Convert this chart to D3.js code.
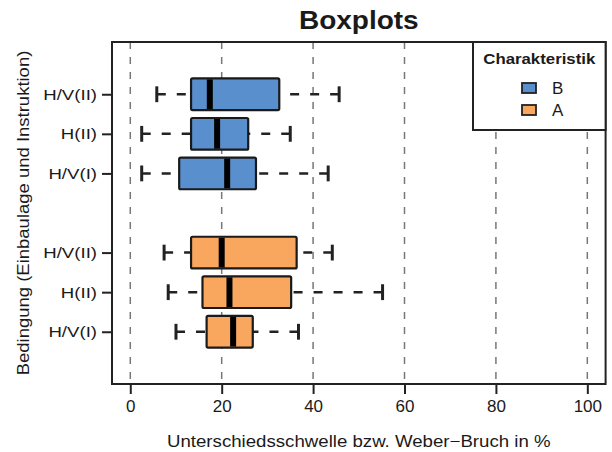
<!DOCTYPE html>
<html>
<head>
<meta charset="utf-8">
<script src="https://cdn.jsdelivr.net/npm/d3@7"></script>
<style>
  body { margin: 0; background: #fff; }
  text { font-family: "Liberation Sans", Arial, sans-serif; fill: #1a1a1a; }
</style>
</head>
<body>
<div id="chart"></div>
<script>
// categories, bottom to top inside each group
var categories = ['H/V(I)', 'H(II)', 'H/V(II)'];
var series = ['A', 'B'];
var legend_order = ['B', 'A'];
var x_ticks = [0, 20, 40, 60, 80, 100];

// five number summaries per category (low whisker, q1, median, q3, high whisker)
var a_low = [10.0, 8.3, 7.4];
var a_q1 = [16.7, 15.8, 13.3];
var a_med = [22.5, 21.7, 20.0];
var a_q3 = [26.8, 35.2, 36.4];
var a_high = [36.8, 55.2, 44.2];

var b_low = [2.5, 2.5, 5.8];
var b_q1 = [10.7, 13.3, 13.3];
var b_med = [21.2, 19.0, 17.4];
var b_q3 = [27.5, 25.8, 32.6];
var b_high = [43.3, 35.0, 45.7];

var colors = { A: '#f9a65e', B: '#5a8fcd' };

var chart_width = 612;
var chart_height = 452;
// note: "top" is taken by window.top, so use plot_* names
var plot_left = 112, plot_right = 605.6, plot_top = 42, plot_bottom = 384;

var svg = d3
  .select('#chart')
  .append('svg')
  .attr('width', chart_width)
  .attr('height', chart_height);

var x_scale = d3.scaleLinear().domain([-4, 104]).range([plot_left, plot_right]);
// slots 1-3 for A, slot 4 empty, slots 5-7 for B
var y_scale = d3.scaleLinear().domain([-0.32, 8.32]).range([plot_bottom, plot_top]);

// build rows from the arrays
var rows = [];
categories.forEach(function(c, i) {
  rows.push({ cat: c, s: 'A', pos: i + 1, low: a_low[i], q1: a_q1[i], med: a_med[i], q3: a_q3[i], high: a_high[i] });
});
categories.forEach(function(c, i) {
  rows.push({ cat: c, s: 'B', pos: i + 5, low: b_low[i], q1: b_q1[i], med: b_med[i], q3: b_q3[i], high: b_high[i] });
});

var slot = y_scale(0) - y_scale(1);
var box_h = slot * 0.8;
var cap_h = box_h / 2;

// the reference text is a bit wider than Liberation Sans, stretch it
function stretch(sel, f) {
  sel.each(function() {
    var w = this.getComputedTextLength();
    d3.select(this).attr('textLength', w * f).attr('lengthAdjust', 'spacingAndGlyphs');
  });
}

// grid
svg
  .selectAll('.grid')
  .data(x_ticks)
  .enter()
  .append('line')
  .attr('x1', function(d) { return x_scale(d); })
  .attr('x2', function(d) { return x_scale(d); })
  .attr('y1', plot_top)
  .attr('y2', plot_bottom)
  .attr('stroke', '#777')
  .attr('stroke-width', 1.5)
  .attr('stroke-dasharray', '7,8');

var g = svg.selectAll('.row').data(rows).enter().append('g');

// whiskers, drawn from the cap toward the box
g.append('line')
  .attr('x1', function(d) { return x_scale(d.low); })
  .attr('x2', function(d) { return x_scale(d.q1); })
  .attr('y1', function(d) { return y_scale(d.pos); })
  .attr('y2', function(d) { return y_scale(d.pos); })
  .attr('stroke', '#222')
  .attr('stroke-width', 2.5)
  .attr('stroke-dasharray', '9,11');
g.append('line')
  .attr('x1', function(d) { return x_scale(d.high); })
  .attr('x2', function(d) { return x_scale(d.q3); })
  .attr('y1', function(d) { return y_scale(d.pos); })
  .attr('y2', function(d) { return y_scale(d.pos); })
  .attr('stroke', '#222')
  .attr('stroke-width', 2.5)
  .attr('stroke-dasharray', '9,11');

// caps
['low', 'high'].forEach(function(k) {
  g.append('line')
    .attr('x1', function(d) { return x_scale(d[k]); })
    .attr('x2', function(d) { return x_scale(d[k]); })
    .attr('y1', function(d) { return y_scale(d.pos) - cap_h / 2; })
    .attr('y2', function(d) { return y_scale(d.pos) + cap_h / 2; })
    .attr('stroke', '#222')
    .attr('stroke-width', 3);
});

// boxes
g.append('rect')
  .attr('x', function(d) { return x_scale(d.q1); })
  .attr('y', function(d) { return y_scale(d.pos) - box_h / 2; })
  .attr('width', function(d) { return x_scale(d.q3) - x_scale(d.q1); })
  .attr('height', box_h)
  .attr('rx', 1.5)
  .attr('fill', function(d) { return colors[d.s]; })
  .attr('stroke', '#1a1a1a')
  .attr('stroke-width', 2.2);

// medians
g.append('line')
  .attr('x1', function(d) { return x_scale(d.med); })
  .attr('x2', function(d) { return x_scale(d.med); })
  .attr('y1', function(d) { return y_scale(d.pos) - box_h / 2 + 1; })
  .attr('y2', function(d) { return y_scale(d.pos) + box_h / 2 - 1; })
  .attr('stroke', '#000')
  .attr('stroke-width', 6);

// frame
svg.append('rect')
  .attr('x', plot_left).attr('y', plot_top)
  .attr('width', plot_right - plot_left).attr('height', plot_bottom - plot_top)
  .attr('fill', 'none')
  .attr('stroke', '#222')
  .attr('stroke-width', 2);

// x axis
var x_axis = d3.axisBottom(x_scale).tickValues(x_ticks).tickSize(10).tickPadding(6);
var xg = svg.append('g').attr('transform', 'translate(0,' + plot_bottom + ')').call(x_axis);
xg.select('.domain').remove();
xg.selectAll('line').attr('stroke', '#222').attr('stroke-width', 2);
xg.selectAll('text').attr('font-size', 17).attr('font-family', null).attr('fill', '#1a1a1a');

// y axis
var y_axis = d3.axisLeft(y_scale)
  .tickValues(rows.map(function(d) { return d.pos; }))
  .tickFormat(function(p) { return rows.filter(function(r) { return r.pos === p; })[0].cat; })
  .tickSize(10)
  .tickPadding(5);
var yg = svg.append('g').attr('transform', 'translate(' + plot_left + ',0)').call(y_axis);
yg.select('.domain').remove();
yg.selectAll('line').attr('stroke', '#222').attr('stroke-width', 2);
yg.selectAll('text').attr('font-size', 15.5).attr('font-family', null).attr('fill', '#1a1a1a');
stretch(yg.selectAll('text'), 1.2);

// titles
var title = svg.append('text')
  .attr('x', (plot_left + plot_right) / 2)
  .attr('y', 29)
  .attr('text-anchor', 'middle')
  .attr('font-size', 25)
  .attr('font-weight', 'bold')
  .text('Boxplots');
stretch(title, 1.12);

var x_title = svg.append('text')
  .attr('x', (plot_left + plot_right) / 2)
  .attr('y', 447)
  .attr('text-anchor', 'middle')
  .attr('font-size', 16.5)
  .text('Unterschiedsschwelle bzw. Weber\u2212Bruch in %');
stretch(x_title, 1.13);

var y_title = svg.append('text')
  .attr('transform', 'translate(29,' + (plot_top + plot_bottom) / 2 + ') rotate(-90)')
  .attr('text-anchor', 'middle')
  .attr('font-size', 16.5)
  .text('Bedingung (Einbaulage und Instruktion)');
stretch(y_title, 1.12);

// legend
var lg = svg.append('g');
lg.append('rect')
  .attr('x', 473).attr('y', plot_top)
  .attr('width', plot_right - 473).attr('height', 130 - plot_top)
  .attr('fill', '#fff')
  .attr('stroke', '#222')
  .attr('stroke-width', 2);
var lg_title = lg.append('text')
  .attr('x', (473 + plot_right) / 2)
  .attr('y', 64)
  .attr('text-anchor', 'middle')
  .attr('font-size', 15)
  .attr('font-weight', 'bold')
  .text('Charakteristik');
stretch(lg_title, 1.12);
var items = lg.selectAll('.item').data(legend_order).enter().append('g')
  .attr('transform', function(d, i) { return 'translate(522,' + (88 + i * 22) + ')'; });
items.append('rect')
  .attr('x', 0).attr('y', -5)
  .attr('width', 14).attr('height', 10)
  .attr('fill', function(d) { return colors[d]; })
  .attr('stroke', '#222')
  .attr('stroke-width', 1.8);
items.append('text')
  .attr('x', 30).attr('y', 6)
  .attr('font-size', 17)
  .text(function(d) { return d; });
</script>
</body>
</html>
